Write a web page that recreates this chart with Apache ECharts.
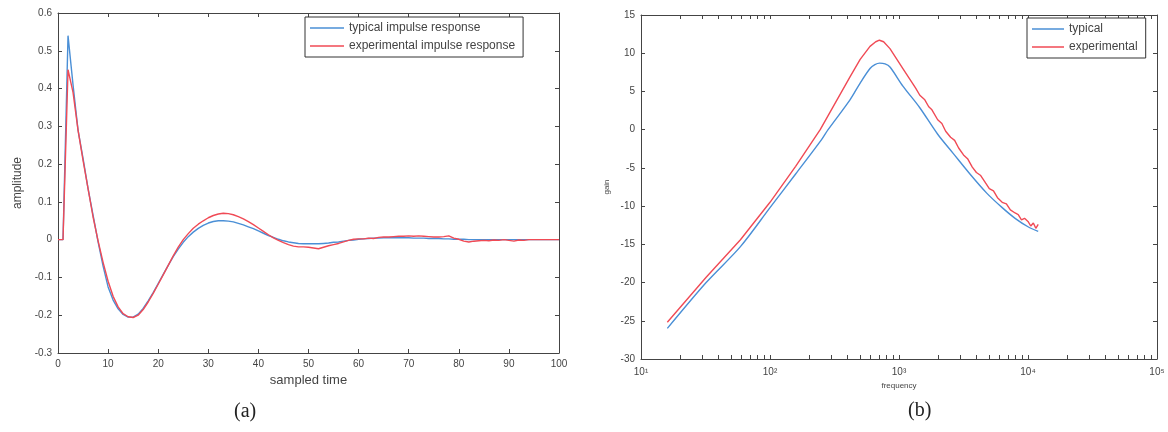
<!DOCTYPE html>
<html>
<head>
<meta charset="utf-8">
<script src="https://cdn.jsdelivr.net/npm/echarts@6/dist/echarts.min.js"></script>
<style>
  html, body { margin: 0; padding: 0; background: #fff; }
  #chart { width: 1168px; height: 432px; }
</style>
</head>
<body>
<div id="chart"></div>
<script>
// (a) impulse response, one value per sampled time step 0..100
var typicalImpulse = [
  0, 0, 0.54, 0.41, 0.29, 0.215, 0.135, 0.065, -0.006, -0.07,
  -0.125, -0.16, -0.183, -0.198, -0.205, -0.205, -0.197, -0.182, -0.162, -0.14,
  -0.116, -0.092, -0.068, -0.045, -0.025, -0.007, 0.008, 0.02, 0.03, 0.038,
  0.044, 0.048, 0.05, 0.05, 0.049, 0.047, 0.043, 0.039, 0.034, 0.029,
  0.023, 0.017, 0.011, 0.006, 0.001, -0.003, -0.006, -0.008, -0.01, -0.011,
  -0.011, -0.011, -0.011, -0.01, -0.009, -0.007, -0.006, -0.004, -0.002, -0.001,
  0.001, 0.002, 0.003, 0.004, 0.004, 0.005, 0.005, 0.005, 0.005, 0.005,
  0.005, 0.004, 0.004, 0.004, 0.003, 0.003, 0.003, 0.002, 0.002, 0.001,
  0.001, 0.001, 0, 0, 0, 0, 0, 0, 0, 0,
  0, 0, 0, 0, 0, 0, 0, 0, 0, 0, 0
];
var experimentalImpulse = [
  0, 0, 0.45, 0.39, 0.29, 0.21, 0.135, 0.06, -0.003, -0.06,
  -0.11, -0.15, -0.178, -0.196, -0.204, -0.206, -0.2, -0.185, -0.165, -0.142,
  -0.118, -0.093, -0.068, -0.043, -0.02, 0, 0.016, 0.03, 0.041, 0.05,
  0.058, 0.064, 0.068, 0.07, 0.069, 0.066, 0.061, 0.055, 0.048, 0.04,
  0.031, 0.022, 0.013, 0.005, -0.002, -0.008, -0.013, -0.017, -0.019, -0.019,
  -0.02, -0.022, -0.024, -0.02, -0.016, -0.013, -0.01, -0.006, -0.002, 0.001,
  0.002, 0.002, 0.004, 0.003, 0.006, 0.007, 0.007, 0.008, 0.009, 0.009,
  0.01, 0.009, 0.01, 0.009, 0.008, 0.007, 0.007, 0.008, 0.01, 0.004,
  0.001, -0.004, -0.006, -0.004, -0.003, -0.002, -0.003, -0.001, -0.002, 0,
  -0.002, -0.004, -0.001, -0.002, 0, 0, 0, 0, 0, 0, 0
];

// (b) frequency response
var typicalFreq = [16, 32, 59, 100, 158, 251, 282, 417, 500, 596, 650, 708, 780, 851, 1072, 1445, 1995, 2630, 3548, 4786, 6310, 7943, 10000, 12000];
var typicalGain = [-26.0, -20.0, -15.3, -10.2, -5.8, -1.3, 0, 3.9, 6.1, 8.0, 8.5, 8.7, 8.6, 8.2, 5.7, 2.9, -0.6, -3.1, -5.8, -8.3, -10.2, -11.6, -12.7, -13.3];
var experimentalFreq = [16, 32, 59, 100, 158, 245, 417, 500, 596, 660, 705, 760, 851, 1072, 1259,
  1350, 1450, 1585, 1700, 1800, 1995, 2150, 2300, 2512, 2700, 2900, 3162, 3400, 3700, 3981,
  4300, 4700, 5012, 5400, 5800, 6310, 6800, 7300, 7943, 8400, 8900, 9400, 10000, 10500, 11000, 11500, 12000];
var experimentalGain = [-25.2, -19.3, -14.4, -9.5, -4.8, 0, 6.9, 9.2, 10.9, 11.5, 11.7, 11.5, 10.6, 8.0, 6.2,
  5.4, 4.5, 3.9, 3.0, 2.6, 1.3, 0.8, -0.2, -1.0, -1.4, -2.4, -3.3, -3.8, -4.9, -5.6,
  -6.0, -7.0, -7.7, -8.0, -8.9, -9.5, -9.7, -10.5, -10.9, -11.1, -11.8, -11.6, -12.0, -12.6, -12.2, -12.9, -12.4];

var logTicks = [10, 20, 30, 40, 50, 60, 70, 80, 90, 100, 200, 300, 400, 500, 600, 700, 800, 900,
  1000, 2000, 3000, 4000, 5000, 6000, 7000, 8000, 9000, 10000, 20000, 30000, 40000, 50000,
  60000, 70000, 80000, 90000, 100000];

var BLUE = '#4a8fd6';
var RED = '#f04a55';
var AXIS = '#444';
var FONT = 'Liberation Sans, Arial, sans-serif';

function pairs(xs, ys) {
  return xs.map(function (x, i) { return [x, ys[i]]; });
}

var sup = { 1: '\u00b9', 2: '\u00b2', 3: '\u00b3', 4: '\u2074', 5: '\u2075' };

var labelStyle = { color: AXIS, fontSize: 10, fontFamily: FONT };

function valueAxis(grid, pos, min, max, interval, showLabel, fmt) {
  return {
    type: 'value', gridIndex: grid, position: pos, min: min, max: max, interval: interval,
    axisLine: { show: true, onZero: false, lineStyle: { color: AXIS, width: 1 } },
    axisTick: { show: true, inside: true, length: 4, lineStyle: { color: AXIS } },
    axisLabel: Object.assign({ show: showLabel, formatter: fmt, margin: 6 }, labelStyle),
    splitLine: { show: false }
  };
}

function logAxis(grid, pos, showLabel) {
  return {
    type: 'log', logBase: 10, gridIndex: grid, position: pos, min: 10, max: 100000,
    axisLine: { show: true, onZero: false, lineStyle: { color: AXIS, width: 1 } },
    axisTick: { show: true, inside: true, length: 4, customValues: logTicks, lineStyle: { color: AXIS } },
    axisLabel: Object.assign({
      show: showLabel, margin: 8,
      formatter: function (v) { return '10' + sup[Math.round(Math.log10(v))]; }
    }, labelStyle),
    splitLine: { show: false }
  };
}

function fmt1(v) {
  if (Math.abs(v) < 1e-9) return '0';
  return v.toFixed(1);
}

var timeSteps = typicalImpulse.map(function (v, i) { return i; });

var legendBase = {
  orient: 'vertical', padding: [5, 8, 5, 5], itemGap: 6,
  icon: 'rect', itemHeight: 1.5,
  borderColor: '#333', borderWidth: 1, backgroundColor: '#fff',
  textStyle: { color: '#444', fontSize: 12, fontFamily: FONT }
};

var chart = echarts.init(document.getElementById('chart'));
chart.setOption({
  animation: false,
  backgroundColor: '#fff',
  grid: [
    { left: 58, top: 13, width: 501, height: 340 },
    { left: 641, top: 15, width: 516, height: 344 }
  ],
  legend: [
    Object.assign({}, legendBase, {
      data: ['typical impulse response', 'experimental impulse response'],
      left: 305, top: 17, itemWidth: 34
    }),
    Object.assign({}, legendBase, {
      data: ['typical', 'experimental'],
      left: 1027, top: 18, itemWidth: 32
    })
  ],
  xAxis: [
    Object.assign(valueAxis(0, 'bottom', 0, 100, 10, true), {
      name: 'sampled time', nameLocation: 'middle', nameGap: 16,
      nameTextStyle: { color: '#444', fontSize: 13, fontFamily: FONT }
    }),
    valueAxis(0, 'top', 0, 100, 10, false),
    Object.assign(logAxis(1, 'bottom', true), {
      name: 'frequency', nameLocation: 'middle', nameGap: 20,
      nameTextStyle: { color: '#444', fontSize: 8, fontFamily: FONT }
    }),
    logAxis(1, 'top', false)
  ],
  yAxis: [
    Object.assign(valueAxis(0, 'left', -0.3, 0.6, 0.1, true, fmt1), {
      name: 'amplitude', nameLocation: 'middle', nameGap: 34, nameRotate: 90,
      nameTextStyle: { color: '#444', fontSize: 12, fontFamily: FONT }
    }),
    valueAxis(0, 'right', -0.3, 0.6, 0.1, false),
    Object.assign(valueAxis(1, 'left', -30, 15, 5, true), {
      name: 'gain', nameLocation: 'middle', nameGap: 30, nameRotate: 90,
      nameTextStyle: { color: '#444', fontSize: 8, fontFamily: FONT }
    }),
    valueAxis(1, 'right', -30, 15, 5, false)
  ],
  series: [
    {
      name: 'typical impulse response', type: 'line', xAxisIndex: 0, yAxisIndex: 0,
      data: pairs(timeSteps, typicalImpulse), showSymbol: false, symbol: 'none',
      lineStyle: { color: BLUE, width: 1.4 }, itemStyle: { color: BLUE }
    },
    {
      name: 'experimental impulse response', type: 'line', xAxisIndex: 0, yAxisIndex: 0,
      data: pairs(timeSteps, experimentalImpulse), showSymbol: false, symbol: 'none',
      lineStyle: { color: RED, width: 1.4 }, itemStyle: { color: RED }
    },
    {
      name: 'typical', type: 'line', xAxisIndex: 2, yAxisIndex: 2,
      data: pairs(typicalFreq, typicalGain), showSymbol: false, symbol: 'none', smooth: 0.3,
      lineStyle: { color: BLUE, width: 1.4 }, itemStyle: { color: BLUE }
    },
    {
      name: 'experimental', type: 'line', xAxisIndex: 2, yAxisIndex: 2,
      data: pairs(experimentalFreq, experimentalGain), showSymbol: false, symbol: 'none',
      lineStyle: { color: RED, width: 1.4 }, itemStyle: { color: RED }
    }
  ],
  graphic: [
    { type: 'text', left: 234, top: 402, style: { text: '(a)', fontSize: 20, fill: '#222', fontFamily: 'Liberation Serif, Times New Roman, serif' } },
    { type: 'text', left: 908, top: 401, style: { text: '(b)', fontSize: 20, fill: '#222', fontFamily: 'Liberation Serif, Times New Roman, serif' } }
  ]
});
</script>
</body>
</html>
